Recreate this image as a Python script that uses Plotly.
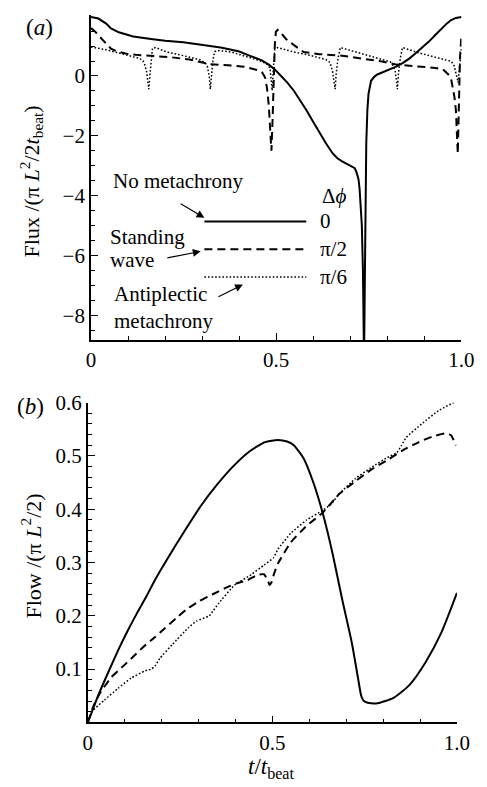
import plotly.graph_objects as go

# ---------------- data: panel (a) flux ----------------
ta_solid = [0, 0.02, 0.041, 0.054, 0.075, 0.114, 0.162, 0.2, 0.249, 0.3, 0.35, 0.379, 0.40, 0.426,
            0.445, 0.461, 0.48, 0.496, 0.513, 0.53, 0.548, 0.565, 0.582, 0.6, 0.617, 0.634, 0.652,
            0.665, 0.678, 0.69, 0.704, 0.712, 0.717, 0.722, 0.725, 0.728, 0.731, 0.734, 0.737,
            0.739, 0.740, 0.742, 0.743, 0.746, 0.749, 0.756, 0.765, 0.773, 0.79, 0.808, 0.825,
            0.842, 0.86, 0.877, 0.895, 0.912, 0.93, 0.946, 0.96, 0.972, 0.985, 1.0]
fa_solid = [1.97, 1.92, 1.75, 1.59, 1.46, 1.32, 1.24, 1.18, 1.13, 1.05, 0.95, 0.88, 0.82, 0.69,
            0.60, 0.52, 0.38, 0.22, 0.0, -0.22, -0.50, -0.82, -1.15, -1.54, -1.92, -2.25, -2.58,
            -2.75, -2.85, -2.93, -3.0, -3.08, -3.23, -3.45, -3.78, -4.3, -4.99, -6.5, -9.5,
            -7.0, -5.5, -3.3, -2.25, -1.15, -0.6, -0.16, -0.02, 0.05, 0.14, 0.22, 0.32,
            0.44, 0.59, 0.77, 0.95, 1.15, 1.38, 1.59, 1.75, 1.87, 1.94, 1.97]

ta_dash = [0, 0.01, 0.023, 0.04, 0.054, 0.07, 0.093, 0.12, 0.162, 0.214, 0.266, 0.318, 0.37,
           0.413, 0.452, 0.462, 0.470, 0.475, 0.480, 0.484, 0.487, 0.490, 0.493, 0.496, 0.499,
           0.504, 0.512, 0.527, 0.548, 0.574, 0.6, 0.617, 0.678, 0.73, 0.782, 0.825, 0.877,
           0.929, 0.95, 0.964, 0.972, 0.977, 0.981, 0.985, 0.988, 0.990, 0.993, 0.996, 1.0]
fa_dash = [1.6, 1.5, 1.32, 1.1, 0.91, 0.82, 0.75, 0.71, 0.68, 0.63, 0.55, 0.40, 0.36,
           0.31, 0.19, 0.12, -0.05, -0.4, -1.0, -1.7, -2.5, -1.5, 0.0, 1.0, 1.48,
           1.54, 1.45, 1.23, 1.03, 0.80, 0.76, 0.73, 0.68, 0.58, 0.49, 0.38, 0.33,
           0.27, 0.22, 0.06, -0.1, -0.38, -0.7, -1.15, -1.8, -2.6, -1.0, 0.6, 1.4]

ta_dot = [0, 0.04, 0.075, 0.10, 0.127, 0.14, 0.145, 0.150, 0.156, 0.160, 0.166, 0.175, 0.205,
          0.249, 0.292, 0.308, 0.314, 0.319, 0.322, 0.326, 0.330, 0.334, 0.345, 0.379, 0.418,
          0.461, 0.476, 0.483, 0.487, 0.489, 0.492, 0.496, 0.504, 0.548, 0.591, 0.634, 0.645,
          0.652, 0.656, 0.659, 0.662, 0.667, 0.673, 0.721, 0.764, 0.808, 0.815, 0.821, 0.825,
          0.827, 0.830, 0.835, 0.841, 0.886, 0.938, 0.972, 0.980, 0.985, 0.989, 0.991, 0.994,
          0.997, 1.0]
fa_dot = [0.97, 0.88, 0.77, 0.70, 0.60, 0.52, 0.38, 0.15, -0.44, 0.16, 0.93, 0.95, 0.80,
          0.68, 0.55, 0.45, 0.33, 0.0, -0.44, 0.1, 0.6, 0.82, 0.85, 0.80, 0.64,
          0.49, 0.38, 0.27, -0.2, -0.49, 0.2, 0.88, 0.95, 0.80, 0.69, 0.55, 0.45,
          0.16, -0.2, -0.44, 0.1, 0.60, 0.95, 0.77, 0.63, 0.47, 0.35, 0.16, -0.2,
          -0.44, 0.1, 0.6, 0.95, 0.77, 0.60, 0.49, 0.35, 0.11, -0.1, -0.22, 0.2,
          0.66, 0.97]

# ---------------- data: panel (b) flow ----------------
tb_solid = [0, 0.015, 0.029, 0.056, 0.082, 0.108, 0.134, 0.16, 0.18, 0.219, 0.263, 0.306, 0.35,
            0.393, 0.437, 0.48, 0.515, 0.54, 0.558, 0.584, 0.61, 0.637, 0.663, 0.689, 0.715,
            0.732, 0.741, 0.748, 0.758, 0.785, 0.828, 0.871, 0.915, 0.958, 1.0]
fb_solid = [0, 0.027, 0.052, 0.095, 0.135, 0.172, 0.206, 0.238, 0.265, 0.311, 0.36, 0.406, 0.446,
            0.48, 0.508, 0.526, 0.530, 0.527, 0.520, 0.496, 0.452, 0.391, 0.317, 0.231, 0.150,
            0.083, 0.049, 0.040, 0.037, 0.036, 0.046, 0.070, 0.113, 0.169, 0.243]

tb_dash = [0, 0.015, 0.033, 0.064, 0.098, 0.124, 0.151, 0.182, 0.208, 0.243, 0.273, 0.303,
           0.337, 0.372, 0.403, 0.433, 0.46, 0.477, 0.487, 0.492, 0.497, 0.505, 0.515, 0.55,
           0.593, 0.637, 0.68, 0.724, 0.767, 0.811, 0.854, 0.897, 0.932, 0.967, 0.984, 0.997]
fb_dash = [0, 0.03, 0.055, 0.085, 0.107, 0.124, 0.142, 0.160, 0.176, 0.198, 0.215, 0.228,
           0.240, 0.252, 0.261, 0.267, 0.277, 0.278, 0.268, 0.258, 0.262, 0.28, 0.298, 0.338,
           0.369, 0.394, 0.428, 0.452, 0.474, 0.492, 0.511, 0.526, 0.536, 0.542, 0.539, 0.520]

tb_dot = [0, 0.012, 0.045, 0.082, 0.117, 0.156, 0.172, 0.182, 0.195, 0.23, 0.273, 0.294, 0.329,
          0.34, 0.355, 0.398, 0.442, 0.477, 0.503, 0.515, 0.55, 0.593, 0.637, 0.66, 0.68, 0.724,
          0.767, 0.811, 0.837, 0.85, 0.863, 0.906, 0.95, 0.993]
fb_dot = [0, 0.021, 0.042, 0.064, 0.083, 0.097, 0.100, 0.106, 0.120, 0.147, 0.178, 0.190, 0.200,
          0.21, 0.224, 0.258, 0.277, 0.295, 0.309, 0.325, 0.355, 0.38, 0.398, 0.41, 0.428, 0.457,
          0.478, 0.497, 0.506, 0.52, 0.535, 0.561, 0.585, 0.601]

xticks = [0, 0.5, 1.0]
xticktext = ["0", "0.5", "1.0"]
ya_ticks = [-8, -6, -4, -2, 0]
yb_ticks = [0.1, 0.2, 0.3, 0.4, 0.5, 0.6]
legend_labels = ["0", "π/2", "π/6"]

FONT = "Liberation Serif, 'Times New Roman', 'DejaVu Serif', serif"
W, H = 487, 787
FS = 21
SOLID = dict(color="black", width=2)
DASH = dict(color="black", width=2, dash="8px,5px")
DOT = dict(color="black", width=1.5, dash="1.6px,2px")

fig = go.Figure()
fig.add_trace(go.Scatter(x=ta_solid, y=fa_solid, mode="lines", line=SOLID, xaxis="x", yaxis="y"))
fig.add_trace(go.Scatter(x=ta_dash, y=fa_dash, mode="lines", line=DASH, xaxis="x", yaxis="y"))
fig.add_trace(go.Scatter(x=ta_dot, y=fa_dot, mode="lines", line=DOT, xaxis="x", yaxis="y"))
fig.add_trace(go.Scatter(x=tb_solid, y=fb_solid, mode="lines",
                         line=dict(SOLID, shape="spline", smoothing=0.6), xaxis="x2", yaxis="y2"))
fig.add_trace(go.Scatter(x=tb_dash, y=fb_dash, mode="lines",
                         line=dict(DASH, shape="spline", smoothing=0.4), xaxis="x2", yaxis="y2"))
fig.add_trace(go.Scatter(x=tb_dot, y=fb_dot, mode="lines",
                         line=dict(DOT, shape="spline", smoothing=0.4), xaxis="x2", yaxis="y2"))


def px2x(p):
    return p / W


def py2y(p):
    return 1 - p / H


axis_common = dict(showline=True, linecolor="black", linewidth=1.8, ticks="inside",
                   ticklen=7, tickwidth=1.3, tickcolor="black", showgrid=False,
                   zeroline=False, mirror=False,
                   tickfont=dict(family=FONT, size=FS, color="black"))
minor_common = dict(ticks="inside", ticklen=4, tickwidth=1.2, tickcolor="black")

fig.update_layout(
    width=W, height=H, margin=dict(l=0, r=0, t=0, b=0, pad=0),
    paper_bgcolor="white", plot_bgcolor="white", showlegend=False,
    font=dict(family=FONT, size=FS, color="black"),
    xaxis=dict(domain=[px2x(89.3), px2x(474)], range=[0, 1], anchor="y",
               tickvals=xticks, ticktext=xticktext,
               minor=dict(dtick=0.1, tick0=0, **minor_common), **axis_common),
    yaxis=dict(domain=[py2y(333.3), py2y(3.3)], range=[-8.83, 2.03], anchor="x",
               tickvals=ya_ticks,
               minor=dict(dtick=0.5, tick0=0, **minor_common), **axis_common),
    xaxis2=dict(domain=[px2x(86), px2x(469.3)], range=[0, 1], anchor="y2",
                tickvals=xticks, ticktext=xticktext,
                minor=dict(dtick=0.1, tick0=0, **minor_common), **axis_common),
    yaxis2=dict(domain=[py2y(721.4), py2y(396.7)], range=[0, 0.6], anchor="x2",
                tickvals=yb_ticks,
                minor=dict(dtick=0.02, tick0=0, **minor_common), **axis_common),
)

ann = []
fnt = dict(family=FONT, size=FS, color="black")
big = dict(family=FONT, size=23, color="black")
ttl = dict(family=FONT, size=22, color="black")


def paper_text(text, x, y, font, angle=0):
    return dict(text=text, x=px2x(x), y=py2y(y), xref="paper", yref="paper",
                xanchor="center", yanchor="middle", textangle=angle,
                showarrow=False, font=font)


ann.append(paper_text("(<i>a</i>)", 36, 16, big))
ann.append(paper_text("(<i>b</i>)", 26, 401, big))
ann.append(paper_text("Flux /(π <i>L</i><sup>2</sup>/2<i>t</i><sub>beat</sub>)", 27, 172, ttl, -90))
ann.append(paper_text("Flow /(π <i>L</i><sup>2</sup>/2)", 27, 553, ttl, -90))
ann.append(paper_text("<i>t</i>/<i>t</i><sub>beat</sub>", 277, 768, big))

# legend inside panel (a), in the data coordinates of axes x/y
leg_y = [-4.86, -5.79, -6.72]
leg_styles = [SOLID, DASH, DOT]
shapes = []
for yy, st, lab in zip(leg_y, leg_styles, legend_labels):
    shapes.append(dict(type="line", xref="x", yref="y", x0=0.306, x1=0.581, y0=yy, y1=yy,
                       line=st))
    ann.append(dict(text=lab, x=0.613, y=yy, xref="x", yref="y", xanchor="left",
                    yanchor="middle", showarrow=False, font=fnt))
ann.append(dict(text="Δ<i>ϕ</i>", x=0.657, y=-4.01, xref="x", yref="y", xanchor="center",
                yanchor="middle", showarrow=False, font=fnt))

for txt, xx, yy in [("No metachrony", 0.054, -3.52), ("Standing", 0.046, -5.39),
                    ("wave", 0.046, -6.15), ("Antiplectic", 0.057, -7.30),
                    ("metachrony", 0.057, -8.19)]:
    ann.append(dict(text=txt, x=xx, y=yy, xref="x", yref="y", xanchor="left",
                    yanchor="middle", showarrow=False, font=fnt))

for (x0, y0, x1, y1) in [(0.238, -4.24, 0.306, -4.74), (0.202, -6.09, 0.296, -5.86),
                         (0.340, -7.40, 0.410, -6.97)]:
    ann.append(dict(text="", x=x1, y=y1, ax=x0, ay=y0, xref="x", yref="y", axref="x", ayref="y",
                    showarrow=True, arrowhead=2, arrowsize=1.3, arrowwidth=1.2,
                    arrowcolor="black"))

fig.update_layout(annotations=ann, shapes=shapes)
fig.write_html("out.html")
